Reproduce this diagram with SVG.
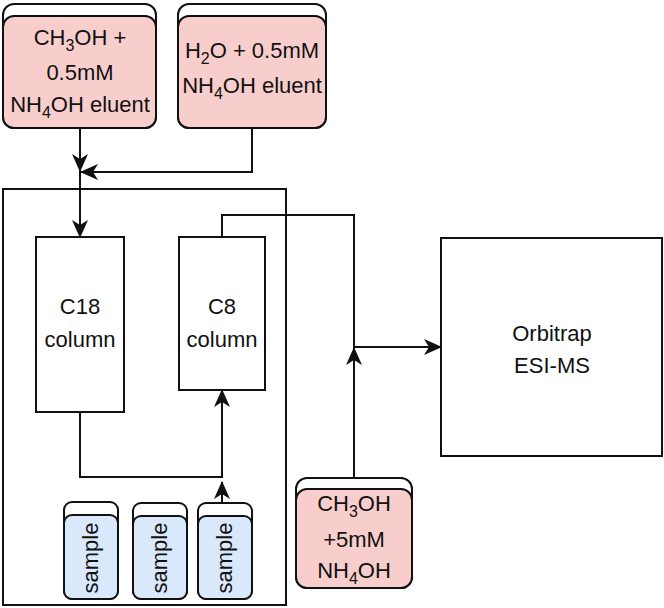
<svg xmlns="http://www.w3.org/2000/svg" width="664" height="608" viewBox="0 0 664 608">
<defs>
<style>
.box{fill:#fff;stroke:#111;stroke-width:2}
.back{fill:#fff;stroke:#111;stroke-width:2}
.pink{fill:#f8cecc;stroke:#111;stroke-width:2}
.blue{fill:#dae8fc;stroke:#111;stroke-width:2}
.t{font-family:"Liberation Sans",Arial,sans-serif;font-size:22px;fill:#111;text-anchor:middle}
.sub{font-size:16px}
.edge{fill:none;stroke:#111;stroke-width:2}
</style>
<marker id="arr" markerWidth="18" markerHeight="16" viewBox="0 0 18 16" refX="17" refY="8" orient="auto" markerUnits="userSpaceOnUse">
<path d="M0,0 L18,8 L0,16 L5,8 Z" fill="#111"/>
</marker>
</defs>
<rect width="664" height="608" fill="#fff"/>

<g id="container"><rect class="box" x="3" y="189" width="283" height="416" fill="none"/></g>

<g id="eluentA">
<rect class="back" x="3" y="4" width="153" height="124" rx="11"/>
<rect class="pink" x="3" y="16" width="153" height="112" rx="11"/>
<text class="t" x="80" y="45">CH<tspan class="sub" dy="6">3</tspan><tspan dy="-6">OH +</tspan></text>
<text class="t" x="80" y="80">0.5mM</text>
<text class="t" x="80" y="112">NH<tspan class="sub" dy="6">4</tspan><tspan dy="-6">OH eluent</tspan></text>
</g>

<g id="eluentB">
<rect class="back" x="178" y="4" width="148" height="124" rx="11"/>
<rect class="pink" x="178" y="16" width="148" height="112" rx="11"/>
<text class="t" x="252" y="58">H<tspan class="sub" dy="6">2</tspan><tspan dy="-6">O + 0.5mM</tspan></text>
<text class="t" x="252" y="93">NH<tspan class="sub" dy="6">4</tspan><tspan dy="-6">OH eluent</tspan></text>
</g>

<g id="c18">
<rect class="box" x="36" y="237" width="88" height="175"/>
<text class="t" x="80" y="314">C18</text>
<text class="t" x="80" y="347">column</text>
</g>

<g id="c8">
<rect class="box" x="179" y="237" width="86" height="153"/>
<text class="t" x="222" y="314">C8</text>
<text class="t" x="222" y="347">column</text>
</g>

<g id="orbitrap">
<rect class="box" x="441" y="238" width="221" height="218"/>
<text class="t" x="552" y="341">Orbitrap</text>
<text class="t" x="552" y="373">ESI-MS</text>
</g>

<g id="makeup">
<rect class="back" x="296" y="478" width="116" height="110" rx="11"/>
<rect class="pink" x="296" y="489" width="116" height="99" rx="11"/>
<text class="t" x="354" y="511">CH<tspan class="sub" dy="6">3</tspan><tspan dy="-6">OH</tspan></text>
<text class="t" x="354" y="547">+5mM</text>
<text class="t" x="354" y="578">NH<tspan class="sub" dy="6">4</tspan><tspan dy="-6">OH</tspan></text>
</g>

<g id="sample1">
<rect class="back" x="64" y="502" width="54" height="97" rx="8"/>
<rect class="blue" x="64" y="515" width="54" height="84" rx="8"/>
<text class="t" x="91" y="565" transform="rotate(-90 91 558)">sample</text>
</g>
<g id="sample2">
<rect class="back" x="133" y="503" width="54" height="96" rx="8"/>
<rect class="blue" x="133" y="516" width="54" height="83" rx="8"/>
<text class="t" x="160" y="565" transform="rotate(-90 160 558)">sample</text>
</g>
<g id="sample3">
<rect class="back" x="198" y="503" width="54" height="96" rx="8"/>
<rect class="blue" x="198" y="516" width="54" height="83" rx="8"/>
<text class="t" x="225" y="565" transform="rotate(-90 225 558)">sample</text>
</g>

<g id="connectors">
<path class="edge" d="M80,128 V171" marker-end="url(#arr)"/>
<path class="edge" d="M252,128 V172 H81" marker-end="url(#arr)"/>
<path class="edge" d="M80,171 V237" marker-end="url(#arr)"/>
<path class="edge" d="M222,237 V215 H354 V347 H441" marker-end="url(#arr)"/>
<path class="edge" d="M354,478 V348" marker-end="url(#arr)"/>
<path class="edge" d="M80,412 V477 H222 V390" marker-end="url(#arr)"/>
<path class="edge" d="M222,503 V482" marker-end="url(#arr)"/>
</g>
</svg>
